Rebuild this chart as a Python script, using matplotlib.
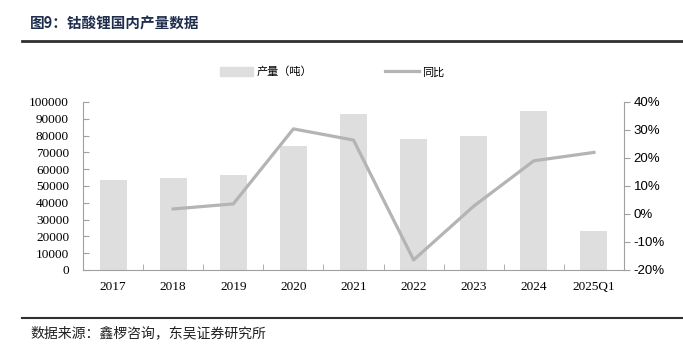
import numpy as np
import matplotlib.pyplot as plt
from matplotlib.patches import Patch
from matplotlib.lines import Line2D

plt.rcParams['font.family'] = ['Noto Sans CJK SC', 'DejaVu Sans']

# data
years = ['2017', '2018', '2019', '2020', '2021', '2022', '2023', '2024', '2025Q1']
output_t = [53700, 54800, 56800, 73800, 92900, 78000, 79800, 94600, 23200]
yoy_pct = [np.nan, 1.8, 3.6, 30.4, 26.4, -16.4, 2.8, 19.0, 22.0]

bar_col = '#dedede'
line_col = '#b4b4b4'
axis_col = '#a0a0a0'

fig = plt.figure(figsize=(6.83, 3.54), dpi=100)
W, H = 683, 354
ax = fig.add_axes([83 / W, 1 - 270 / H, (624 - 83) / W, (270 - 102) / H])
ax2 = ax.twinx()

x = np.arange(len(years))
ax.bar(x, output_t, width=0.45, color=bar_col, zorder=1)
ax2.plot(x, yoy_pct, color=line_col, lw=2.3, zorder=3)

ax.set_xlim(-0.5, len(years) - 0.5)
ax.set_ylim(0, 100000)
ax.set_yticks(np.arange(0, 100001, 10000))
ax.set_yticklabels([str(v) for v in range(0, 100001, 10000)],
                   family='Liberation Serif', fontsize=9.5)
ax2.set_ylim(-20, 40)
ax2.set_yticks(np.arange(-20, 41, 10))
ax2.set_yticklabels([f'{v}%' for v in range(-20, 41, 10)],
                    family='Liberation Sans', fontsize=9.5)

ax.set_xticks(x)
ax.set_xticklabels(years, family='Liberation Serif', fontsize=9.5)
ax.tick_params(axis='x', length=0, pad=8)
ax.set_xticks(np.arange(-0.5, len(years), 1), minor=True)
ax.tick_params(axis='x', which='minor', length=4, direction='in', color=axis_col)
ax.tick_params(axis='y', length=4, direction='in', color=axis_col, pad=10)
ax2.tick_params(axis='y', length=4, color=axis_col, pad=3)

for a in (ax, ax2):
    a.spines['top'].set_visible(False)
    for s in ('left', 'right', 'bottom'):
        a.spines[s].set_color(axis_col)
ax.spines['right'].set_visible(False)
ax2.spines['left'].set_visible(False)
ax2.spines['bottom'].set_visible(False)

handles = [Patch(color=bar_col, label='产量（吨）'),
           Line2D([0], [0], color=line_col, lw=2.3, label='同比')]
fig.legend(handles=handles, loc='center', bbox_to_anchor=(332 / W, 1 - 72 / H),
           ncol=2, frameon=False, fontsize=8, columnspacing=6.6,
           handlelength=3.0, handleheight=0.9, handletextpad=0.3)

fig.text(30 / W, 1 - 23 / H, '图9：钴酸锂国内产量数据', fontsize=10.5,
         fontweight='bold', color='#1f2d4d', va='center')
fig.add_artist(Line2D([22 / W, 1], [1 - 41 / H] * 2, color='#303030', lw=2))
fig.add_artist(Line2D([22 / W, 1], [1 - 318 / H] * 2, color='#303030', lw=1.5))
fig.text(30 / W, 1 - 333 / H, '数据来源：鑫椤咨询，东吴证券研究所', fontsize=10,
         color='#202020', va='center')

fig.savefig('out.png', dpi=100)
